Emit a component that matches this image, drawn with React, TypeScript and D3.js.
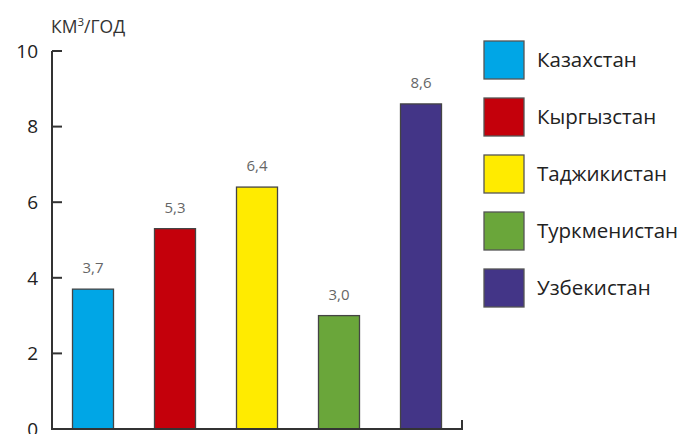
import React from "react";
import * as d3 from "d3";

const countries = ["Казахстан", "Кыргызстан", "Таджикистан", "Туркменистан", "Узбекистан"];
const values = [3.7, 5.3, 6.4, 3.0, 8.6];
const colors = ["#00A6E6", "#C4000B", "#FFEB00", "#6AA63A", "#433587"];
const yTicks = [0, 2, 4, 6, 8, 10];
const unitLabel = "КМ";
const unitRest = "/ГОД";

const W = 695;
const H = 434;
const FONT = "'Open Sans', 'Noto Sans', sans-serif";

export default function App() {
  const x = d3.scaleBand<string>().domain(countries).range([52, 462]).paddingInner(0.5).paddingOuter(0.25);
  const y = d3.scaleLinear().domain([0, 10]).range([429, 51]);
  const fmt = (v: number) => v.toFixed(1).replace(".", ",");
  const axisColor = "#333";
  return (
    <svg width={W} height={H} style={{ position: "absolute", left: 0, top: 0 }} fontFamily={FONT}>
      <rect width={W} height={H} fill="#fff" />
      <text x={51} y={33} fontSize={17.5} fill="#333">
        {unitLabel}
        <tspan dy={-7} fontSize={11.5}>3</tspan>
        <tspan dy={7}>{unitRest}</tspan>
      </text>
      {countries.map((c, i) => (
        <g key={c}>
          <rect x={x(c)} y={y(values[i])} width={x.bandwidth()} height={y(0) - y(values[i])} fill={colors[i]} stroke="#444" strokeWidth={1.3} />
          <text x={(x(c) as number) + x.bandwidth() / 2} y={y(values[i]) - 16} textAnchor="middle" fontSize={15} fill="#666">
            {fmt(values[i])}
          </text>
        </g>
      ))}
      <line x1={52} x2={52} y1={y(10)} y2={y(0)} stroke={axisColor} strokeWidth={2} />
      <line x1={51} x2={463} y1={y(0)} y2={y(0)} stroke={axisColor} strokeWidth={2} />
      <line x1={462} x2={462} y1={y(0)} y2={y(0) - 9} stroke={axisColor} strokeWidth={2} />
      {yTicks.map((t) => (
        <g key={t}>
          <line x1={52} x2={62} y1={y(t)} y2={y(t)} stroke={axisColor} strokeWidth={2} />
          <text x={38} y={y(t)} dy="0.36em" textAnchor="end" fontSize={19} fill="#222">
            {t}
          </text>
        </g>
      ))}
      {countries.map((c, i) => (
        <g key={"l" + c} transform={`translate(484, ${41 + i * 57})`}>
          <rect width={40} height={38} fill={colors[i]} stroke="#555" strokeWidth={1.3} />
          <text x={53} y={19} dy="0.35em" fontSize={20.5} fill="#222">
            {c}
          </text>
        </g>
      ))}
    </svg>
  );
}
